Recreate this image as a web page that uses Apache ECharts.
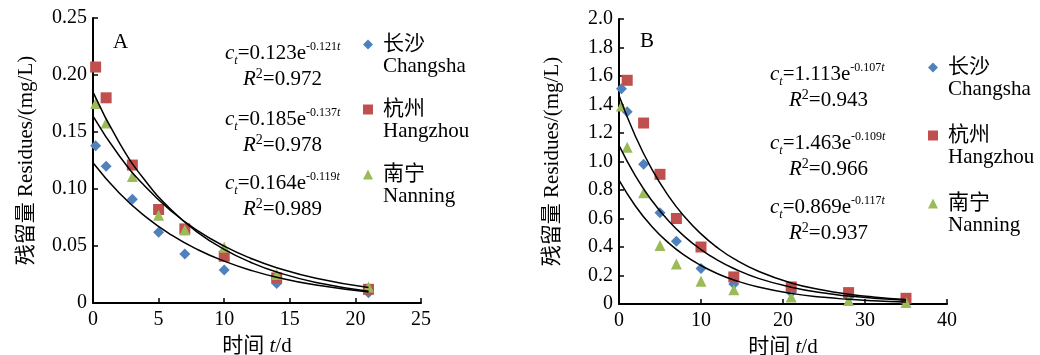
<!DOCTYPE html>
<html>
<head>
<meta charset="utf-8">
<script src="https://cdn.jsdelivr.net/npm/echarts@6.0.0/dist/echarts.min.js"></script>
<style>
  html, body { margin: 0; padding: 0; background: #fff; }
  #main { width: 1040px; height: 355px; }
</style>
</head>
<body>
<div id="main"></div>
<script>
// 残留量数据 A 图
const tA = [0.2, 1, 3, 5, 7, 10, 14, 21];
const changshaA = [0.138, 0.120, 0.091, 0.062, 0.043, 0.029, 0.017, 0.009];
const hangzhouA = [0.207, 0.180, 0.121, 0.082, 0.065, 0.041, 0.022, 0.012];
const nanningA = [0.175, 0.158, 0.111, 0.077, 0.064, 0.049, 0.025, 0.014];

// B 图
const tB = [0.3, 1, 3, 5, 7, 10, 14, 21, 28, 35];
const changshaB = [1.51, 1.35, 0.98, 0.64, 0.44, 0.25, 0.14, 0.08, 0.05, 0.03];
const hangzhouB = [null, 1.57, 1.27, 0.91, 0.60, 0.40, 0.19, 0.12, 0.08, 0.04];
const nanningB = [1.39, 1.10, 0.78, 0.41, 0.28, 0.16, 0.10, 0.05, 0.025, 0.01];

// 拟合曲线读数
const fitTA = [0, 2, 4, 6, 8, 10, 12, 14, 17, 21];
const fitChangshaA = [0.123, 0.0965, 0.0758, 0.0595, 0.0467, 0.0367, 0.0288, 0.0226, 0.0157, 0.0097];
const fitHangzhouA = [0.185, 0.1407, 0.107, 0.0813, 0.0618, 0.047, 0.0358, 0.0272, 0.018, 0.0104];
const fitNanningA = [0.164, 0.1292, 0.1019, 0.0803, 0.0633, 0.0499, 0.0393, 0.031, 0.0217, 0.0135];

const fitTB = [0, 2, 4, 6, 8, 10, 12, 14, 17, 21, 25, 28, 31, 35];
const fitChangshaB = [1.113, 0.899, 0.726, 0.586, 0.473, 0.382, 0.308, 0.249, 0.180, 0.118, 0.0767, 0.0556, 0.0404, 0.0263];
const fitHangzhouB = [1.463, 1.177, 0.946, 0.761, 0.612, 0.492, 0.396, 0.318, 0.230, 0.148, 0.0959, 0.0692, 0.0499, 0.0322];
const fitNanningB = [0.869, 0.688, 0.544, 0.431, 0.341, 0.270, 0.213, 0.169, 0.119, 0.0745, 0.0466, 0.0328, 0.0231, 0.0145];

// 方程文字
const coefA = ['0.123', '0.185', '0.164'];
const rateA = ['-0.121', '-0.137', '-0.119'];
const r2A = ['0.972', '0.978', '0.989'];
const coefB = ['1.113', '1.463', '0.869'];
const rateB = ['-0.107', '-0.109', '-0.117'];
const r2B = ['0.943', '0.966', '0.937'];

const cities = ['长沙', '杭州', '南宁'];
const citiesEn = ['Changsha', 'Hangzhou', 'Nanning'];

const colors = ['#4F81BD', '#C0504D', '#9BBB59'];
const symbols = ['diamond', 'rect', 'triangle'];
const serif = "'Liberation Serif', 'Noto Sans CJK SC', serif";

function pairs(t, v) {
  const out = [];
  for (let i = 0; i < t.length; i++) {
    if (v[i] != null) out.push([t[i], v[i]]);
  }
  return out;
}

function xAxis(idx, max, interval) {
  return {
    type: 'value',
    gridIndex: idx,
    min: 0,
    max: max,
    interval: interval,
    name: '时间 {i|t}/d',
    nameLocation: 'middle',
    nameGap: 33,
    nameTextStyle: {
      color: '#000', fontSize: 21, fontFamily: serif,
      rich: { i: { fontStyle: 'italic', fontSize: 21, fontFamily: serif, color: '#000' } },
    },
    axisLine: { lineStyle: { color: '#000', width: 2 } },
    axisTick: { inside: true, length: 5, lineStyle: { color: '#000', width: 1.5 } },
    axisLabel: { color: '#000', fontSize: 20, fontFamily: serif, margin: 7 },
    splitLine: { show: false },
  };
}

function yAxis(idx, max, interval, digits) {
  return {
    type: 'value',
    gridIndex: idx,
    min: 0,
    max: max,
    interval: interval,
    name: '残留量 Residues/(mg/L)',
    nameLocation: 'middle',
    nameGap: 56,
    nameTextStyle: { color: '#000', fontSize: 21, fontFamily: serif },
    axisLine: { show: true, lineStyle: { color: '#000', width: 2 } },
    axisTick: { show: true, inside: true, length: 5, lineStyle: { color: '#000', width: 1.5 } },
    axisLabel: {
      color: '#000', fontSize: 20, fontFamily: serif, margin: 6,
      formatter: function (v) { return v === 0 ? '0' : v.toFixed(digits); },
    },
    splitLine: { show: false },
  };
}

const series = [];
const scatterData = [[changshaA, hangzhouA, nanningA], [changshaB, hangzhouB, nanningB]];
const fitData = [[fitChangshaA, fitHangzhouA, fitNanningA], [fitChangshaB, fitHangzhouB, fitNanningB]];
const times = [tA, tB];
const fitTimes = [fitTA, fitTB];

for (let p = 0; p < 2; p++) {
  for (let i = 0; i < 3; i++) {
    series.push({
      name: cities[i],
      type: 'scatter',
      xAxisIndex: p,
      yAxisIndex: p,
      symbol: symbols[i],
      symbolSize: 11,
      itemStyle: { color: colors[i], opacity: 1 },
      data: pairs(times[p], scatterData[p][i]),
      z: 2,
    });
  }
  for (let i = 0; i < 3; i++) {
    series.push({
      name: 'fit' + p + i,
      type: 'line',
      xAxisIndex: p,
      yAxisIndex: p,
      showSymbol: false,
      smooth: true,
      lineStyle: { color: '#000', width: 1.5 },
      itemStyle: { color: '#000' },
      data: pairs(fitTimes[p], fitData[p][i]),
      z: 3,
      silent: true,
    });
  }
}

const legendRich = {
  blank: { lineHeight: 22, fontSize: 21 },
  z: { lineHeight: 22, fontSize: 21, fontFamily: serif, color: '#000', padding: [0, 0, 0, 5] },
  e: { lineHeight: 22, fontSize: 21, fontFamily: serif, color: '#000', padding: [0, 0, 0, 5] },
};

function legend(left, top, gap) {
  return {
    orient: 'vertical',
    left: left,
    top: top,
    padding: 0,
    itemGap: gap,
    itemWidth: 10,
    itemHeight: 10,
    data: cities.map(function (c, i) { return { name: c, icon: symbols[i] }; }),
    formatter: function (name) {
      return '{blank| }\n{z|' + name + '}\n{e|' + citiesEn[cities.indexOf(name)] + '}';
    },
    textStyle: { rich: legendRich },
  };
}

const eqRich = {
  ci: { fontStyle: 'italic', fontSize: 21, fontFamily: serif, color: '#000' },
  n: { fontSize: 21, fontFamily: serif, color: '#000' },
  sub: { fontStyle: 'italic', fontSize: 12, fontFamily: serif, color: '#000', padding: [16, 0, 0, 0] },
  sup: { fontSize: 12, fontFamily: serif, color: '#000', padding: [0, 0, 12, 0] },
  supi: { fontStyle: 'italic', fontSize: 12, fontFamily: serif, color: '#000', padding: [0, 0, 12, 0] },
  sup2: { fontSize: 14, fontFamily: serif, color: '#000', padding: [0, 0, 10, 0] },
};

function eqText(left, top, text) {
  return { type: 'text', left: left, top: top, style: { text: text, rich: eqRich, fill: '#000' } };
}

const graphics = [];
const eqTopsA = [41, 107, 171];
const eqTopsB = [62, 131, 195];
for (let i = 0; i < 3; i++) {
  graphics.push(eqText(225, eqTopsA[i], '{ci|c}{sub|t}{n|=' + coefA[i] + 'e}{sup|' + rateA[i] + '}{supi|t}'));
  graphics.push(eqText(243, eqTopsA[i] + 26, '{ci|R}{sup2|2}{n|=' + r2A[i] + '}'));
  graphics.push(eqText(770, eqTopsB[i], '{ci|c}{sub|t}{n|=' + coefB[i] + 'e}{sup|' + rateB[i] + '}{supi|t}'));
  graphics.push(eqText(789, eqTopsB[i] + 26, '{ci|R}{sup2|2}{n|=' + r2B[i] + '}'));
}
graphics.push({ type: 'text', left: 113, top: 32, style: { text: 'A', font: '21px ' + serif, fill: '#000' } });
graphics.push({ type: 'text', left: 640, top: 31, style: { text: 'B', font: '21px ' + serif, fill: '#000' } });

const myChart = echarts.init(document.getElementById('main'));
const option = {
  backgroundColor: '#fff',
  animation: false,
  grid: [
    { left: 93, top: 18, width: 328, height: 285, outerBoundsMode: 'none' },
    { left: 619, top: 19, width: 328, height: 285, outerBoundsMode: 'none' },
  ],
  xAxis: [xAxis(0, 25, 5), xAxis(1, 40, 10)],
  yAxis: [yAxis(0, 0.25, 0.05, 2), yAxis(1, 2.0, 0.2, 1)],
  legend: [legend(363, 12, 0), legend(928, 35, 3)],
  graphic: graphics,
  series: series,
};
myChart.setOption(option);
window.onresize = myChart.resize;
</script>
</body>
</html>
